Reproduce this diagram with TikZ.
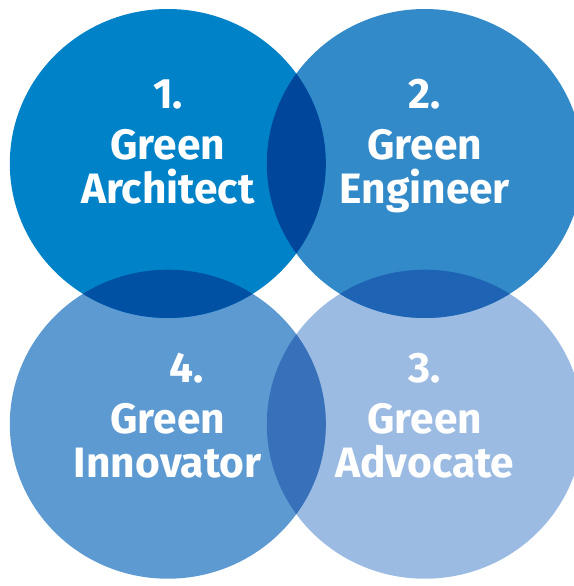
\documentclass[tikz,border=0pt]{standalone}
\usepackage{fontspec}
\setmainfont{Fira Sans}
\definecolor{cTL}{HTML}{0082C8}
\definecolor{cTR}{HTML}{338AC9}
\definecolor{cBL}{HTML}{5E9AD2}
\definecolor{cBR}{HTML}{9BBBE3}
\definecolor{cTLTR}{HTML}{00479B}
\definecolor{cTLBL}{HTML}{0050A4}
\definecolor{cTRBR}{HTML}{1F64B4}
\definecolor{cBLBR}{HTML}{3870BA}
\tikzset{
  lbl/.style={anchor=base,text=white,inner sep=0pt,font=\fontsize{42.5}{45}\selectfont\bfseries},
}
\newcommand{\eTL}{(167.8,163.5) ellipse [x radius=158,y radius=154.5]}
\newcommand{\eTR}{(424.8,163.5) ellipse [x radius=158,y radius=154.5]}
\newcommand{\eBL}{(167.8,424.2) ellipse [x radius=158,y radius=154.5]}
\newcommand{\eBR}{(424.8,424.2) ellipse [x radius=158,y radius=154.5]}
\begin{document}
\begin{tikzpicture}[x=1pt,y=-1pt]
\useasboundingbox (0,0) rectangle (573,586);
\fill[cBR] \eBR;
\fill[cBL] \eBL;
\fill[cTR] \eTR;
\fill[cTL] \eTL;
\begin{scope}\clip \eTL; \fill[cTLTR] \eTR; \end{scope}
\begin{scope}\clip \eTL; \fill[cTLBL] \eBL; \end{scope}
\begin{scope}\clip \eTR; \fill[cTRBR] \eBR; \end{scope}
\begin{scope}\clip \eBL; \fill[cBLBR] \eBR; \end{scope}
\node[lbl] (n1) at (168,108) {1.};
\node[lbl] (g1) at (167.8,159) {Green};
\node[lbl] (t1) at (167.8,203) {Architect};
\node[lbl] (n2) at (424.8,108) {2.};
\node[lbl] (g2) at (424.8,159) {Green};
\node[lbl] (t2) at (424.8,203) {Engineer};
\node[lbl] (n4) at (187,382) {4.};
\node[lbl] (g4) at (167.8,433) {Green};
\node[lbl] (t4) at (167.8,477) {Innovator};
\node[lbl] (n3) at (424.8,382) {3.};
\node[lbl] (g3) at (424.8,433) {Green};
\node[lbl] (t3) at (424.8,477) {Advocate};
\end{tikzpicture}
\end{document}
